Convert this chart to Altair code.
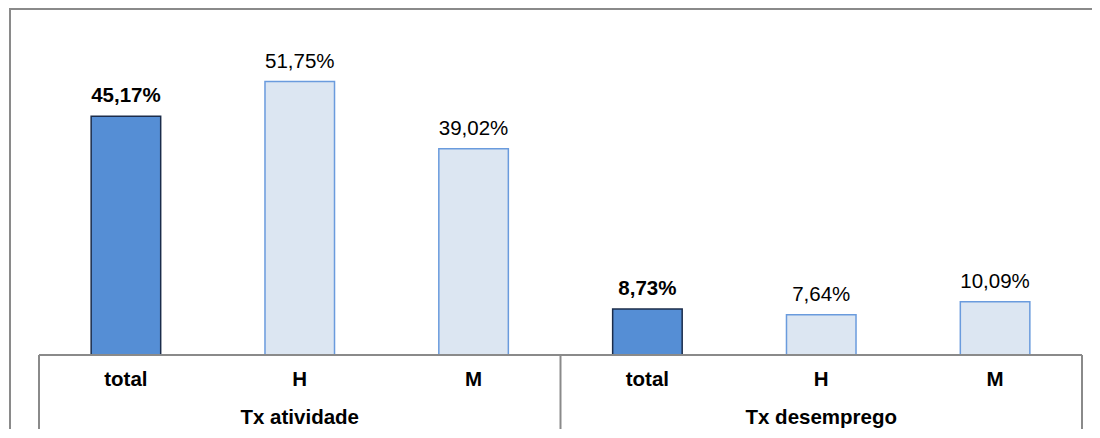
import altair as alt
import pandas as pd

groups = ["Tx atividade", "Tx atividade", "Tx atividade",
          "Tx desemprego", "Tx desemprego", "Tx desemprego"]
cats = ["total", "H", "M", "total", "H", "M"]
values = [45.17, 51.75, 39.02, 8.73, 7.64, 10.09]
group_names = ["Tx atividade", "Tx desemprego"]

df = pd.DataFrame({"group": groups, "cat": cats, "value": values})
df["slot"] = range(len(df))
df["label"] = [f"{v:.2f}".replace(".", ",") + "%" for v in values]
df["is_total"] = df["cat"] == "total"

gdf = pd.DataFrame({"group": group_names, "gidx": range(len(group_names))})
div_df = pd.DataFrame({"b": [0, 3, 6]})

W, H = 1043, 317
FONT = "Liberation Sans"
GREY = "#8a8a8a"

xs = alt.Scale(domain=[0, 6], nice=False, zero=False)
ys = alt.Scale(domain=[0, 60], nice=False)

base = alt.Chart(df).transform_calculate(
    x0="datum.slot + 0.3", x1="datum.slot + 0.7", xm="datum.slot + 0.5"
)

bars = base.mark_bar(strokeWidth=1.5).encode(
    x=alt.X("x0:Q", scale=xs, axis=None),
    x2="x1:Q",
    y=alt.Y("value:Q", scale=ys, axis=None),
    y2=alt.datum(0),
    fill=alt.condition("datum.is_total", alt.value("#558ED5"), alt.value("#DCE6F2")),
    stroke=alt.condition("datum.is_total", alt.value("#1B2C4A"), alt.value("#6A9BDD")),
)

lab_total = base.transform_filter("datum.is_total").mark_text(
    font=FONT, fontSize=20.5, fontWeight="bold", baseline="bottom", dy=-10, color="#000000"
).encode(x=alt.X("xm:Q", scale=xs), y=alt.Y("value:Q", scale=ys), text="label:N")

lab_other = base.transform_filter("!datum.is_total").mark_text(
    font=FONT, fontSize=20.5, baseline="bottom", dy=-10, color="#000000"
).encode(x=alt.X("xm:Q", scale=xs), y=alt.Y("value:Q", scale=ys), text="label:N")

cat_text = base.mark_text(
    font=FONT, fontSize=20.5, fontWeight="bold", baseline="middle", color="#000000"
).encode(x=alt.X("xm:Q", scale=xs), y=alt.value(H + 25), text="cat:N")

grp_text = alt.Chart(gdf).transform_calculate(gm="datum.gidx * 3 + 1.5").mark_text(
    font=FONT, fontSize=20.5, fontWeight="bold", baseline="middle", color="#000000"
).encode(x=alt.X("gm:Q", scale=xs), y=alt.value(H + 63), text="group:N")

dividers = alt.Chart(div_df).mark_rule(color=GREY, strokeWidth=2).encode(
    x=alt.X("b:Q", scale=xs), y=alt.value(H), y2=alt.value(H + 77)
)

baseline = alt.Chart(div_df).mark_rule(color=GREY, strokeWidth=2).encode(
    x=alt.datum(0, scale=xs), x2=alt.datum(6), y=alt.value(H)
)

# outer chart frame (top and left edges; the rest runs off the picture)
frame_top = alt.Chart(div_df.head(1)).mark_rule(color=GREY, strokeWidth=2).encode(
    x=alt.value(-30), x2=alt.value(1061), y=alt.value(-29)
)
frame_left = alt.Chart(div_df.head(1)).mark_rule(color=GREY, strokeWidth=2).encode(
    x=alt.value(-29), y=alt.value(-30), y2=alt.value(420)
)

chart = alt.layer(
    frame_top, frame_left, bars, dividers, baseline,
    lab_total, lab_other, cat_text, grp_text
).properties(
    width=W, height=H,
    autosize=alt.AutoSizeParams(type="none"),
    padding={"left": 31, "top": 30, "right": 10, "bottom": 74},
).configure_view(strokeWidth=0, stroke="transparent")

chart.save("out.html", embed_options={"renderer": "svg", "actions": False})
